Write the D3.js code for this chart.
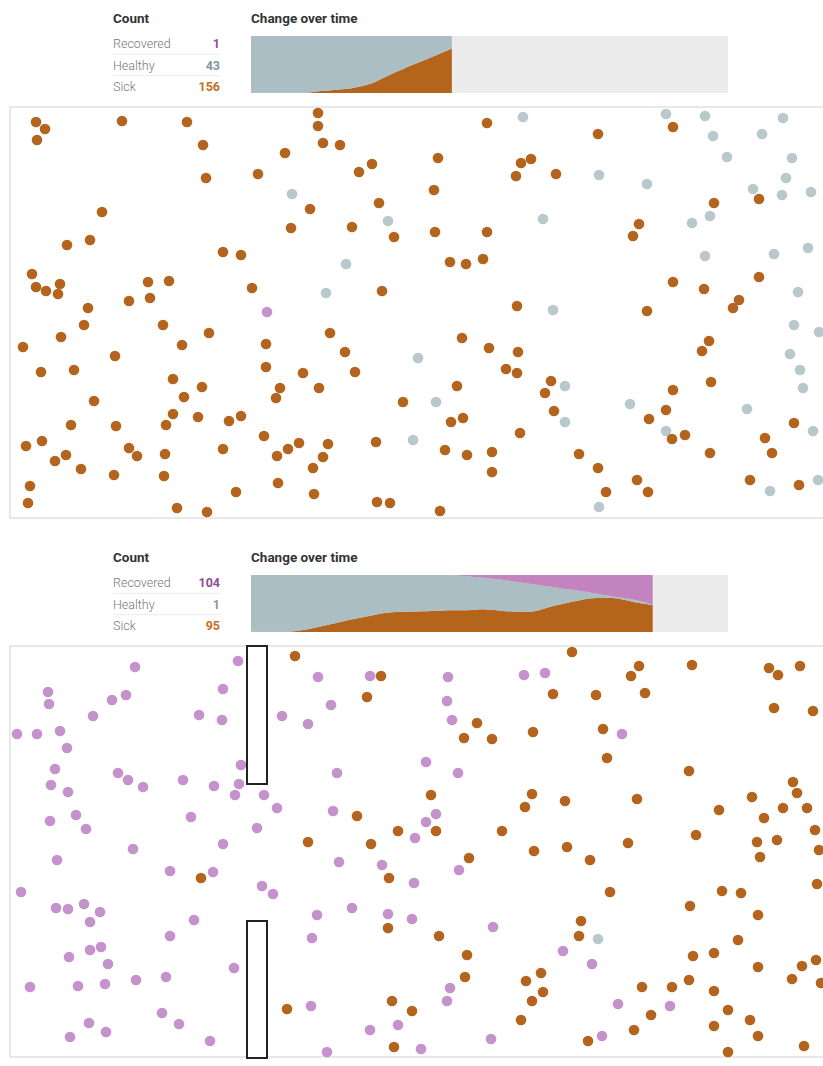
<!DOCTYPE html>
<html>
<head>
<meta charset="utf-8">
<script src="https://cdn.jsdelivr.net/npm/d3@7"></script>
<style>
  body { margin: 0; background: #fff; }
  text { font-family: Roboto, "Open Sans", sans-serif; }
</style>
</head>
<body>
<div id="chart"></div>
<script>
// row labels of the count table, top to bottom
const categories = ['Recovered', 'Healthy', 'Sick']

// run 1: counts per time step
const sick1 = [1,1,1,1,1,1,3,7,10,13,17,24,33,50,67,82,97,111,126,141,156]
const healthy1 = [199,199,199,199,199,199,197,193,190,187,183,176,167,150,133,118,103,89,74,59,43]
const recovered1 = [0,0,0,0,0,0,0,0,0,0,0,0,0,0,0,0,0,0,0,0,1]

// run 2: counts per time step
const sick2 = [1,1,1,1,2,6,12,20,28,36,44,51,58,65,69,71,72,73,74,75,76,76,77,80,78,74,72,71,72,80,90,98,106,113,118,120,119,114,106,100,95]
const healthy2 = [199,199,199,199,198,194,188,180,172,164,156,149,142,135,131,129,128,127,126,125,123,121,117,111,109,109,106,102,96,83,68,55,42,30,19,11,6,6,8,6,1]
const recovered2 = [0,0,0,0,0,0,0,0,0,0,0,0,0,0,0,0,0,0,0,0,1,3,6,9,13,17,22,27,32,37,42,47,52,57,63,69,75,80,86,94,104]

// dot positions (box units) at the moment of the snapshot
const sickDots1 = [[26,15],[35,22],[27,33],[112,14],[177,15],[193,38],[196,71],[248,67],[275,46],[308,6],[308,19],[313,36],[330,38],[349,65],[362,57],[369,96],[384,130],[300,102],[281,121],[342,120],[92,105],[80,133],[57,138],[213,145],[231,148],[22,167],[26,180],[36,184],[50,177],[48,187],[138,175],[159,174],[140,191],[119,194],[78,201],[242,181],[372,184],
  [477,16],[588,27],[663,20],[428,51],[511,56],[521,52],[506,69],[546,67],[424,83],[704,96],[749,92],[629,117],[623,129],[425,125],[477,125],[440,155],[456,157],[473,152],[663,175],[694,182],[749,170],[729,193],[723,201],[507,199],[637,204],
  [74,218],[51,230],[13,240],[153,218],[199,226],[172,238],[105,249],[31,265],[64,263],[163,272],[192,280],[174,290],[84,294],[163,307],[156,318],[188,310],[219,314],[231,309],[61,318],[106,319],[256,237],[320,226],[335,245],[256,260],[293,266],[345,265],[270,281],[266,291],[309,281],[393,295],[254,329],[16,339],[32,334],[45,354],[56,348],[71,362],[119,341],[127,349],[155,347],[213,342],[267,349],[278,342],[289,336],[318,337],[313,350],[303,361],[366,335],[104,368],[154,369],[20,379],[18,396],[268,376],[226,385],[304,387],[367,395],[380,396],[167,401],[197,405],
  [452,231],[479,241],[508,245],[496,262],[507,266],[447,279],[541,274],[535,286],[544,304],[441,315],[453,311],[510,326],[435,343],[457,348],[482,345],[482,365],[569,347],[588,361],[596,385],[627,373],[638,385],[699,234],[692,244],[701,275],[663,283],[656,303],[639,312],[662,332],[675,328],[700,346],[784,316],[755,331],[762,346],[740,373],[789,378],[430,404]]
const healthyDots1 = [[282,87],[378,114],[336,157],[316,186],[513,10],[656,7],[695,9],[773,11],[703,29],[752,27],[717,50],[782,51],[589,68],[637,77],[776,71],[743,82],[772,88],[801,85],[700,109],[682,116],[533,112],[695,149],[764,147],[798,141],[788,185],[543,203],[408,251],[403,333],[426,295],[555,279],[555,315],[620,297],[656,324],[737,302],[784,218],[809,225],[780,247],[790,263],[793,281],[803,324],[808,373],[760,384],[589,400]]
const recoveredDots1 = [[257,205]]

const sickDots2 = [[285,10],[371,30],[357,51],[347,170],[388,185],[298,196],[361,198],
  [562,6],[629,20],[621,30],[682,19],[759,22],[768,29],[790,20],[543,48],[586,49],[635,47],[764,62],[803,65],[467,77],[454,92],[482,93],[523,86],[593,83],[597,112],[679,125],[421,149],[522,148],[515,161],[555,155],[627,153],[783,136],[787,147],[742,151],[709,164],[754,172],[773,162],[797,162],[805,184],[426,185],[492,185],[686,189],[747,196],[767,194],[557,201],[618,197],[524,205],[809,204],
  [191,232],[379,232],[378,282],[277,363],[382,355],[402,365],[384,401],
  [459,212],[580,214],[600,246],[750,211],[807,238],[712,245],[731,247],[680,260],[748,269],[571,275],[569,290],[429,290],[457,309],[455,331],[728,294],[683,310],[704,307],[748,321],[792,320],[806,314],[782,333],[811,337],[531,327],[516,335],[533,346],[522,355],[632,341],[662,341],[679,334],[704,345],[511,374],[641,369],[718,364],[740,374],[704,380],[748,390],[624,384],[578,395],[718,406],[794,400]]
const healthyDots2 = [[588,293]]
const recoveredDots2 = [[125,21],[228,15],[38,46],[39,58],[102,54],[116,49],[83,70],[213,43],[189,69],[212,74],[7,88],[27,88],[50,85],[57,102],[45,123],[108,127],[118,134],[133,141],[41,139],[58,146],[173,134],[204,140],[231,119],[229,138],[225,149],[254,149],[267,162],[40,175],[66,169],[76,183],[181,171],[247,182],[213,198],[123,203],[308,31],[360,30],[321,59],[272,70],[298,78],[327,127],[323,165],[405,192],
  [438,31],[514,29],[535,27],[437,55],[442,74],[612,88],[416,116],[448,127],[426,168],[416,176],
  [47,214],[160,225],[203,226],[11,246],[46,262],[58,263],[74,258],[90,266],[80,276],[184,274],[160,290],[252,240],[263,248],[329,216],[372,219],[404,237],[342,262],[307,269],[378,268],[402,273],[302,292],[59,311],[80,304],[91,301],[98,318],[224,322],[20,341],[68,340],[95,338],[126,334],[156,331],[152,367],[169,378],[79,377],[96,386],[60,391],[200,395],[301,360],[360,384],[388,379],[317,406],
  [449,224],[483,281],[553,305],[582,318],[440,342],[437,355],[608,358],[660,360],[481,393],[411,403],[592,390]]

// quarantine walls in run 2 (box units)
const walls2 = [{x0: 237, x1: 257, y0: 0, y1: 138}, {x0: 237, x1: 257, y0: 275, y1: 412}]

const totalSteps = 47.5
const population = 200

const areaColor = {sick: '#b5641c', healthy: '#aabec3', recovered: '#c283bf'}
const dotColor = {sick: '#b5641d', healthy: '#b8c8cc', recovered: '#c493cb'}
const numColor = {Recovered: '#8f4f94', Healthy: '#7f98a0', Sick: '#c2711f'}

let width = 823, height = 1066
let svg = d3.select('#chart').append('svg')
  .attr('width', width).attr('height', height)

function drawPanel(top, run) {
  let g = svg.append('g').attr('transform', `translate(0, ${top})`)

  // count table
  g.append('text').attr('x', 113).attr('y', 23)
    .attr('font-size', 13.5).attr('font-weight', 700).attr('fill', '#333')
    .text('Count')
  let last = run.sick.length - 1
  let counts = {Recovered: run.recovered[last], Healthy: run.healthy[last], Sick: run.sick[last]}
  let rowY = d3.scaleBand().domain(categories).range([33, 97])
  categories.forEach(c => {
    let y = rowY(c) + rowY.bandwidth() / 2
    g.append('text').attr('x', 113).attr('y', y + 4.5)
      .attr('font-size', 12.5).attr('font-weight', 300).attr('fill', '#777')
      .text(c)
    g.append('text').attr('x', 220).attr('y', y + 4.5)
      .attr('text-anchor', 'end')
      .attr('font-size', 12.5).attr('font-weight', 700).attr('fill', numColor[c])
      .text(counts[c])
    if (c !== 'Sick') {
      g.append('line').attr('x1', 113).attr('x2', 221)
        .attr('y1', rowY(c) + rowY.bandwidth()).attr('y2', rowY(c) + rowY.bandwidth())
        .attr('stroke', '#ececec')
    }
  })

  // change over time
  g.append('text').attr('x', 251).attr('y', 23)
    .attr('font-size', 13.5).attr('font-weight', 700).attr('fill', '#333')
    .text('Change over time')

  let scX = d3.scaleLinear().domain([0, totalSteps]).range([251, 728])
  let scY = d3.scaleLinear().domain([0, population]).range([93, 36])

  g.append('rect')
    .attr('x', scX(0)).attr('y', scY(population))
    .attr('width', scX(totalSteps) - scX(0)).attr('height', scY(0) - scY(population))
    .attr('fill', '#ececec')

  let table = run.sick.map((d, i) => ({step: i, sick: d, healthy: run.healthy[i], recovered: run.recovered[i]}))
  let stacked = d3.stack().keys(['sick', 'healthy', 'recovered'])(table)
  let area = d3.area()
    .x(d => scX(d.data.step))
    .y0(d => scY(d[0]))
    .y1(d => scY(d[1]))
    .curve(d3.curveMonotoneX)
  g.selectAll('path.layer')
    .data(stacked)
    .enter()
    .append('path')
    .attr('class', 'layer')
    .attr('d', area)
    .attr('fill', d => areaColor[d.key])

  // simulation box
  let boxTop = 107
  let bx = d3.scaleLinear().domain([0, 813]).range([10, 823])
  let by = d3.scaleLinear().domain([0, 411]).range([boxTop, boxTop + 411])

  g.append('rect')
    .attr('x', bx(0)).attr('y', by(0))
    .attr('width', bx(830) - bx(0)).attr('height', by(411) - by(0))
    .attr('fill', '#fff').attr('stroke', '#d9d9d9').attr('stroke-width', 1.2)

  let dots = [].concat(
    run.healthyDots.map(d => ({p: d, k: 'healthy'})),
    run.recoveredDots.map(d => ({p: d, k: 'recovered'})),
    run.sickDots.map(d => ({p: d, k: 'sick'})))
  g.append('g').selectAll('circle')
    .data(dots)
    .enter()
    .append('circle')
    .attr('cx', d => bx(d.p[0]))
    .attr('cy', d => by(d.p[1]))
    .attr('r', 5.3)
    .attr('fill', d => dotColor[d.k])

  g.append('g').selectAll('rect')
    .data(run.walls)
    .enter()
    .append('rect')
    .attr('x', d => bx(d.x0)).attr('y', d => by(d.y0))
    .attr('width', d => bx(d.x1) - bx(d.x0)).attr('height', d => by(d.y1) - by(d.y0))
    .attr('fill', '#fff').attr('stroke', '#222').attr('stroke-width', 2)
}

drawPanel(0, {sick: sick1, healthy: healthy1, recovered: recovered1,
  sickDots: sickDots1, healthyDots: healthyDots1, recoveredDots: recoveredDots1, walls: []})
drawPanel(539, {sick: sick2, healthy: healthy2, recovered: recovered2,
  sickDots: sickDots2, healthyDots: healthyDots2, recoveredDots: recoveredDots2, walls: walls2})
</script>
</body>
</html>
